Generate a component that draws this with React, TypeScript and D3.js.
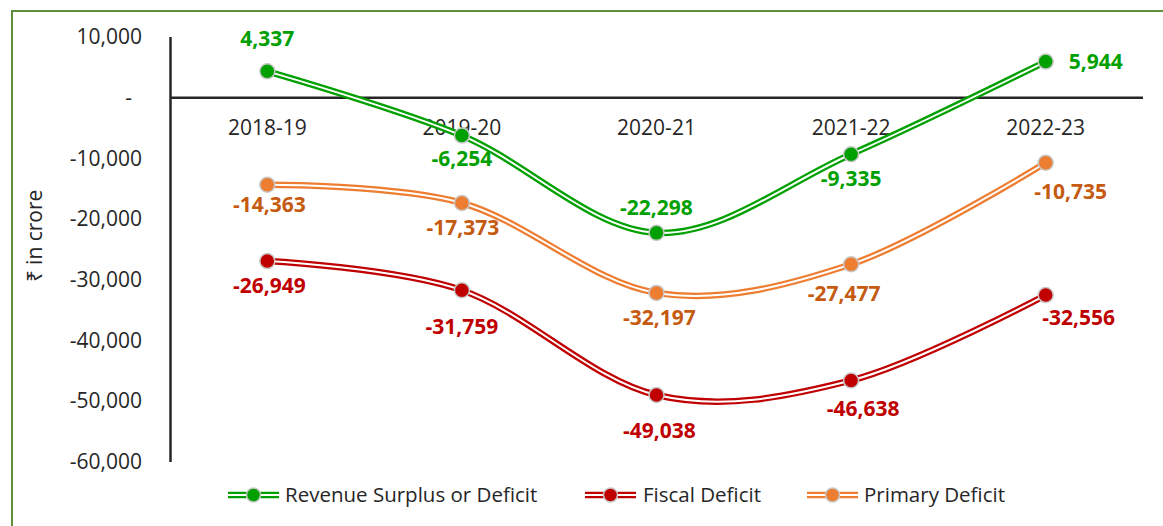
import React from "react";
import * as d3 from "d3";

const categories = ["2018-19", "2019-20", "2020-21", "2021-22", "2022-23"];
const revenue = [4337, -6254, -22298, -9335, 5944];
const fiscal = [-26949, -31759, -49038, -46638, -32556];
const primary = [-14363, -17373, -32197, -27477, -10735];
const yTicks = [10000, 0, -10000, -20000, -30000, -40000, -50000, -60000];

// label offsets from each marker (layout only): [dx, dy]
const revenueLabelOffsets = [[0, -33], [0, 23], [0, -25], [0, 24], [50, 0]];
const fiscalLabelOffsets = [[2, 25], [0, 36], [3, 36], [12, 28], [33, 23]];
const primaryLabelOffsets = [[2, 20], [1, 25], [3, 25], [-7, 29], [25, 29]];

const series = [
  { name: "Revenue Surplus or Deficit", values: revenue, off: revenueLabelOffsets, color: "#00a000", label: "#00a000" },
  { name: "Fiscal Deficit", values: fiscal, off: fiscalLabelOffsets, color: "#c00000", label: "#c00000" },
  { name: "Primary Deficit", values: primary, off: primaryLabelOffsets, color: "#ed7d31", label: "#c55a11" },
];

const FONT = "'Open Sans', sans-serif";

export default function App() {
  const W = 1163, H = 526;
  const x0 = 170, x1 = 1143;
  const x = d3.scaleBand<string>().domain(categories).range([x0, x1]);
  const y = d3.scaleLinear().domain([-60000, 10000]).range([461.5, 37]);
  const comma = d3.format(",");
  const fmt = (v: number) => (v === 0 ? "-" : comma(v).replace("\u2212", "-"));
  const line = d3
    .line<number>()
    .x((_, i) => x(categories[i])! + x.bandwidth() / 2)
    .y((d) => y(d))
    .curve(d3.curveCatmullRom.alpha(0));

  const legendItems = [
    { s: series[0], lx: 228, tx: 285 },
    { s: series[1], lx: 585, tx: 643 },
    { s: series[2], lx: 807, tx: 864 },
  ];

  return (
    <svg width={W} height={H} style={{ position: "absolute", left: 0, top: 0, background: "#fff" }} fontFamily={FONT}>
      <rect x={12} y={11} width={1300} height={700} fill="#fff" stroke="#5f8f3c" strokeWidth={2} />
      {/* y tick labels */}
      {yTicks.map((t) => (
        <text key={t} x={t === 0 ? 132 : 142} y={y(t)} dy="0.35em" textAnchor="end" fontSize={21} fill="#262626">
          {fmt(t)}
        </text>
      ))}
      <text transform={`translate(35,236) rotate(-90)`} textAnchor="middle" dy="0.35em" fontSize={21} fill="#262626">
        ₹ in crore
      </text>
      {/* category labels */}
      {categories.map((c) => (
        <text key={c} x={x(c)! + x.bandwidth() / 2} y={128} dy="0.35em" textAnchor="middle" fontSize={21} fill="#262626">
          {c}
        </text>
      ))}
      {/* axes */}
      <line x1={x0 + 0.5} x2={x0 + 0.5} y1={37} y2={462} stroke="#262626" strokeWidth={2.5} />
      <line x1={x0} x2={x1} y1={y(0)} y2={y(0)} stroke="#262626" strokeWidth={2.5} />
      {/* series lines */}
      {series.map((s) => (
        <g key={s.name}>
          <path d={line(s.values)!} fill="none" stroke={s.color} strokeWidth={6.5} />
          <path d={line(s.values)!} fill="none" stroke="#fff" strokeWidth={2} />
        </g>
      ))}
      {series.map((s) =>
        s.values.map((v, i) => {
          const cx = x(categories[i])! + x.bandwidth() / 2;
          const cy = y(v);
          return <circle key={s.name + i} cx={cx} cy={cy} r={7.5} fill={s.color} stroke="#c8c8c8" strokeWidth={1.5} />;
        })
      )}
      {/* data labels */}
      {series.map((s) =>
        s.values.map((v, i) => {
          const cx = x(categories[i])! + x.bandwidth() / 2;
          const cy = y(v);
          const [dx, dy] = s.off[i];
          return (
            <text key={s.name + "l" + i} x={cx + dx} y={cy + dy} dy="0.35em" textAnchor="middle" fontSize={21} fontWeight="bold" fill={s.label}>
              {fmt(v)}
            </text>
          );
        })
      )}
      {/* legend */}
      {legendItems.map(({ s, lx, tx }) => (
        <g key={s.name}>
          <line x1={lx} x2={lx + 51} y1={495} y2={495} stroke={s.color} strokeWidth={6.5} />
          <line x1={lx} x2={lx + 51} y1={495} y2={495} stroke="#fff" strokeWidth={2} />
          <circle cx={lx + 25.5} cy={495} r={7} fill={s.color} stroke="#c8c8c8" strokeWidth={1.5} />
          <text x={tx} y={495} dy="0.35em" fontSize={20.5} fill="#262626">{s.name}</text>
        </g>
      ))}
    </svg>
  );
}
